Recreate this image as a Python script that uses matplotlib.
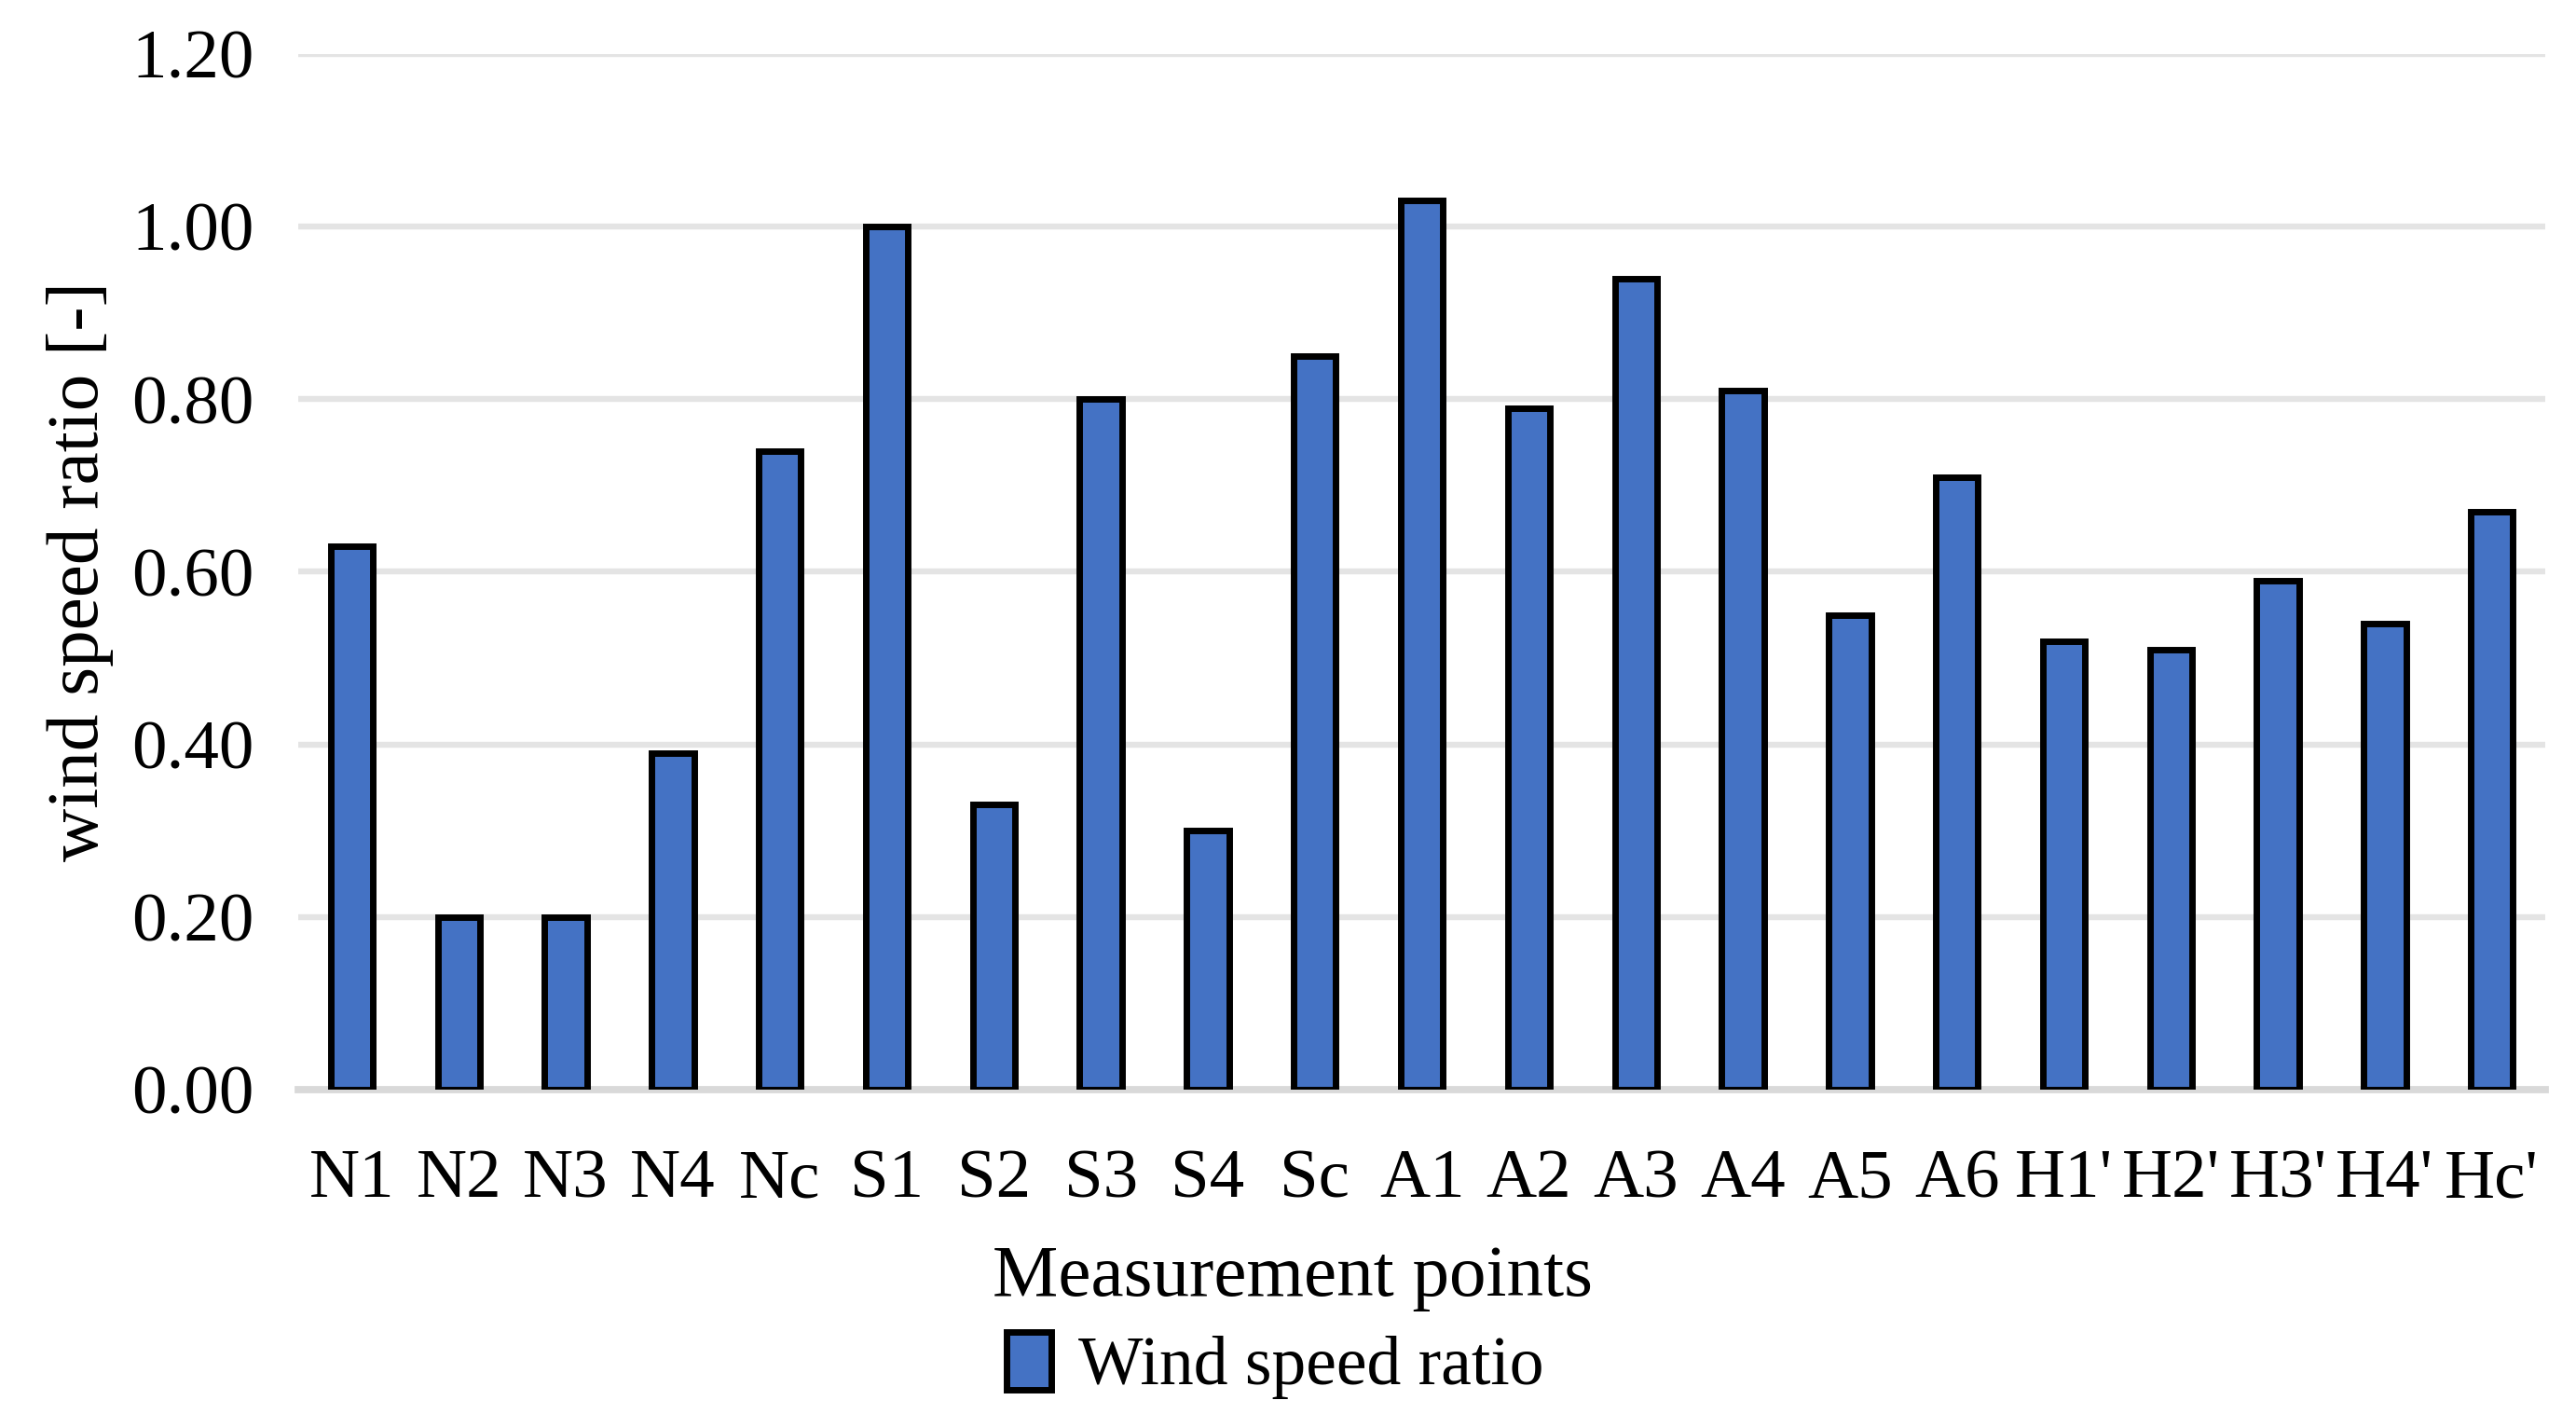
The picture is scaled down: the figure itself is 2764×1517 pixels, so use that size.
import matplotlib
matplotlib.use('Agg')
import matplotlib.pyplot as plt
import numpy as np

points = ['N1', 'N2', 'N3', 'N4', 'Nc', 'S1', 'S2', 'S3', 'S4', 'Sc',
          'A1', 'A2', 'A3', 'A4', 'A5', 'A6', "H1'", "H2'", "H3'", "H4'", "Hc'"]
ratio = [0.63, 0.20, 0.20, 0.39, 0.74, 1.00, 0.33, 0.80, 0.30, 0.85,
         1.03, 0.79, 0.94, 0.81, 0.55, 0.71, 0.52, 0.51, 0.59, 0.54, 0.67]
yticks = [0.0, 0.2, 0.4, 0.6, 0.8, 1.0, 1.2]

plt.rcParams['font.family'] = ['Liberation Serif', 'DejaVu Serif']

fig = plt.figure(figsize=(13.82, 7.585), dpi=200)
ax = fig.add_axes([0.1158, 0.2294, 0.8723, 0.7324])

x = np.arange(len(points))
ax.bar(x, ratio, width=0.395, color='#4472C4', edgecolor='black',
       linewidth=2.5, zorder=3, label='Wind speed ratio')

ax.set_xlim(-0.5, len(points) - 0.5)
ax.set_ylim(0, 1.2)
ax.set_yticks(yticks)
ax.set_yticklabels(['%.2f' % v for v in yticks])
ax.set_xticks(x)
ax.set_xticklabels(points)

ax.grid(axis='y', color='#e4e4e4', linewidth=2.3, zorder=0)
ax.set_axisbelow(True)
for s in ['top', 'right', 'left']:
    ax.spines[s].set_visible(False)
ax.spines['bottom'].set_color('#d9d9d9')
ax.spines['bottom'].set_linewidth(2.8)
ax.spines['bottom'].set_zorder(2)

ax.tick_params(axis='both', length=0, labelsize=27)
ax.tick_params(axis='y', pad=17)
ax.tick_params(axis='x', pad=23)

ax.set_ylabel('wind speed ratio [-]', fontsize=28.5, labelpad=7)
ax.set_xlabel('Measurement points', fontsize=28.5)
ax.xaxis.set_label_coords(0.4425, -0.150)

fig.legend(loc='center', bbox_to_anchor=(0.495, 0.034), frameon=False,
           fontsize=26.5, handlelength=0.65, handleheight=0.9, handletextpad=0.4,
           borderaxespad=0, borderpad=0)

fig.savefig('out.png', dpi=200)
